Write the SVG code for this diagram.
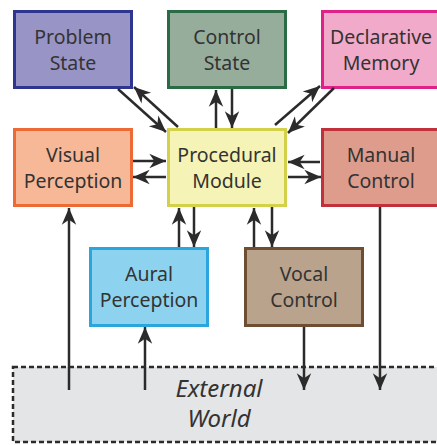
<svg xmlns="http://www.w3.org/2000/svg" width="437" height="445" viewBox="0 0 437 445">
<defs>
<marker id="ah" markerUnits="userSpaceOnUse" markerWidth="20" markerHeight="20" viewBox="-16 -8 18 16" refX="0" refY="0" orient="auto">
<path d="M0,0 L-15,-6.5 L-10.5,0 L-15,6.5 Z" fill="#2b2b2b"/>
</marker>
</defs>
<style>
.box{stroke-width:3}
.lbl{font-family:"Noto Sans","Open Sans",sans-serif;font-size:19.5px;fill:#333;text-anchor:middle}
.c line{stroke:#2b2b2b;stroke-width:2.5;marker-end:url(#ah)}
</style>
<g id="external-world">
<rect x="13" y="367" width="430" height="75" fill="#e4e5e7" stroke="#2b2b2b" stroke-width="2.5" stroke-dasharray="5 3"/>
<text x="219" y="397" font-family="'Noto Sans','Open Sans',sans-serif" font-style="italic" font-size="24" fill="#333" text-anchor="middle">External</text>
<text x="219" y="427" font-family="'Noto Sans','Open Sans',sans-serif" font-style="italic" font-size="24" fill="#333" text-anchor="middle">World</text>
</g>
<g id="problem-state">
<rect class="box" x="14.5" y="11.5" width="117" height="76" fill="#9994c6" stroke="#2e3590"/>
<text class="lbl" x="73" y="44">Problem</text><text class="lbl" x="73" y="70">State</text>
</g>
<g id="control-state">
<rect class="box" x="168.5" y="11.5" width="117" height="76" fill="#96ad9c" stroke="#2a6b46"/>
<text class="lbl" x="227" y="44">Control</text><text class="lbl" x="227" y="70">State</text>
</g>
<g id="declarative-memory">
<rect class="box" x="322.5" y="11.5" width="117" height="76" fill="#f2aaca" stroke="#e0218a"/>
<text class="lbl" x="381" y="44">Declarative</text><text class="lbl" x="381" y="70">Memory</text>
</g>
<g id="visual-perception">
<rect class="box" x="14.5" y="129.5" width="117" height="76" fill="#f7b897" stroke="#ee6a35"/>
<text class="lbl" x="73" y="162">Visual</text><text class="lbl" x="73" y="188">Perception</text>
</g>
<g id="procedural-module">
<rect class="box" x="168.5" y="129.5" width="117" height="76" fill="#f5f3b5" stroke="#d3d14a"/>
<text class="lbl" x="227" y="162">Procedural</text><text class="lbl" x="227" y="188">Module</text>
</g>
<g id="manual-control">
<rect class="box" x="322.5" y="129.5" width="117" height="76" fill="#dd9c8c" stroke="#c0313c"/>
<text class="lbl" x="381" y="162">Manual</text><text class="lbl" x="381" y="188">Control</text>
</g>
<g id="aural-perception">
<rect class="box" x="90.5" y="248.5" width="117" height="77" fill="#8dd3ef" stroke="#2ba6dd"/>
<text class="lbl" x="149" y="281">Aural</text><text class="lbl" x="149" y="307">Perception</text>
</g>
<g id="vocal-control">
<rect class="box" x="245.5" y="248.5" width="117" height="77" fill="#b9a38d" stroke="#6e4e33"/>
<text class="lbl" x="304" y="281">Vocal</text><text class="lbl" x="304" y="307">Control</text>
</g>
<g id="connectors" class="c">
<line x1="118" y1="89" x2="166" y2="132"/>
<line x1="178" y1="127" x2="134" y2="87"/>
<line x1="216" y1="128" x2="216" y2="90"/>
<line x1="232" y1="89" x2="232" y2="128"/>
<line x1="275" y1="125" x2="320" y2="86"/>
<line x1="334" y1="88" x2="288" y2="133"/>
<line x1="133" y1="161" x2="166" y2="161"/>
<line x1="166" y1="177" x2="133" y2="177"/>
<line x1="320" y1="162" x2="288" y2="162"/>
<line x1="288" y1="177" x2="321" y2="177"/>
<line x1="179" y1="247" x2="179" y2="208"/>
<line x1="194" y1="207" x2="194" y2="247"/>
<line x1="254" y1="247" x2="254" y2="208"/>
<line x1="272" y1="207" x2="272" y2="247"/>
<line x1="69" y1="390" x2="69" y2="208"/>
<line x1="145" y1="390" x2="145" y2="327"/>
<line x1="304" y1="327" x2="304" y2="390"/>
<line x1="380" y1="207" x2="380" y2="390"/>
</g>
</svg>
